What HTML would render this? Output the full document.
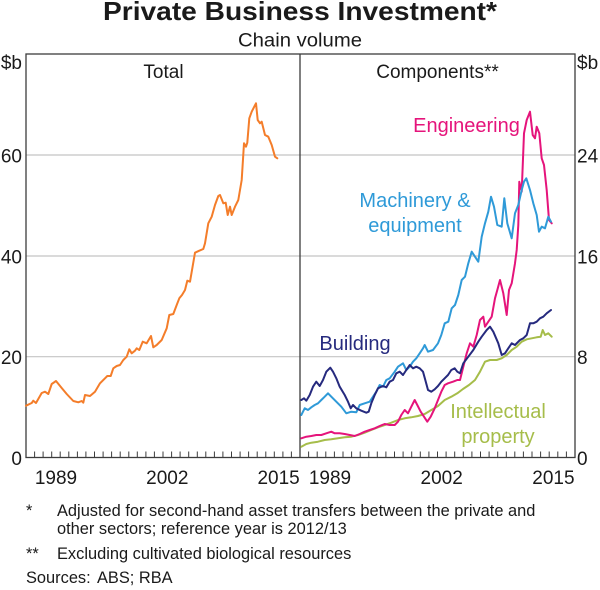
<!DOCTYPE html>
<html><head><meta charset="utf-8"><style>
html,body{margin:0;padding:0;background:#fff;}
svg{display:block;font-family:"Liberation Sans",Arial,sans-serif;}
</style></head><body>
<svg width="600" height="590" viewBox="0 0 600 590" xmlns="http://www.w3.org/2000/svg">
<rect width="600" height="590" fill="#fff"/>
<!-- titles -->
<text x="300" y="20" text-anchor="middle" font-size="26" font-weight="bold" fill="#1a1a1a" textLength="394" lengthAdjust="spacingAndGlyphs">Private Business Investment*</text>
<text x="300" y="46.5" text-anchor="middle" font-size="19" fill="#1a1a1a" textLength="124" lengthAdjust="spacingAndGlyphs">Chain volume</text>
<!-- gridlines -->
<g stroke="#c4c4c4" stroke-width="1.2">
<line x1="26" y1="155" x2="575" y2="155"/>
<line x1="26" y1="256" x2="575" y2="256"/>
<line x1="26" y1="356.7" x2="575" y2="356.7"/>
</g>
<!-- frame -->
<g stroke="#3c3c3c" stroke-width="1.3" fill="none">
<rect x="26" y="54" width="549" height="403.5"/>
<line x1="300" y1="54" x2="300" y2="457.5"/>
</g>
<!-- ticks -->
<g stroke="#3c3c3c" stroke-width="1">
<path d="M34.6 457V451.5M43.1 457V451.5M51.7 457V451.5M60.2 457V451.5M68.8 457V451.5M77.4 457V451.5M85.9 457V451.5M94.5 457V451.5M103.1 457V451.5M111.6 457V451.5M120.2 457V451.5M128.8 457V451.5M137.3 457V451.5M145.9 457V451.5M154.4 457V451.5M163 457V451.5M171.6 457V451.5M180.1 457V451.5M188.7 457V451.5M197.3 457V451.5M205.8 457V451.5M214.4 457V451.5M222.9 457V451.5M231.5 457V451.5M240.1 457V451.5M248.6 457V451.5M257.2 457V451.5M265.8 457V451.5M274.3 457V451.5M282.9 457V451.5M291.4 457V451.5"/>
<path d="M308.6 457V451.5M317.2 457V451.5M325.8 457V451.5M334.4 457V451.5M343 457V451.5M351.6 457V451.5M360.2 457V451.5M368.8 457V451.5M377.3 457V451.5M385.9 457V451.5M394.5 457V451.5M403.1 457V451.5M411.7 457V451.5M420.3 457V451.5M428.9 457V451.5M437.5 457V451.5M446.1 457V451.5M454.7 457V451.5M463.3 457V451.5M471.9 457V451.5M480.5 457V451.5M489.1 457V451.5M497.7 457V451.5M506.3 457V451.5M514.8 457V451.5M523.4 457V451.5M532 457V451.5M540.6 457V451.5M549.2 457V451.5M557.8 457V451.5M566.4 457V451.5"/>
</g>
<!-- axis labels -->
<g font-size="19" fill="#1a1a1a">
<text x="22" y="69" text-anchor="end">$b</text>
<text x="22" y="162.5" text-anchor="end">60</text>
<text x="22" y="263.5" text-anchor="end">40</text>
<text x="22" y="364" text-anchor="end">20</text>
<text x="22" y="465" text-anchor="end">0</text>
<text x="577" y="69">$b</text>
<text x="577" y="162.5">24</text>
<text x="577" y="263.5">16</text>
<text x="577" y="364">8</text>
<text x="577" y="465">0</text>
<text x="56" y="484" text-anchor="middle">1989</text>
<text x="167.3" y="484" text-anchor="middle">2002</text>
<text x="278.6" y="484" text-anchor="middle">2015</text>
<text x="330" y="484" text-anchor="middle">1989</text>
<text x="441.7" y="484" text-anchor="middle">2002</text>
<text x="553.4" y="484" text-anchor="middle">2015</text>
<text x="163.5" y="78" text-anchor="middle">Total</text>
<text x="437.5" y="78" text-anchor="middle">Components**</text>
</g>
<!-- series -->
<g fill="none" stroke-width="2" stroke-linejoin="round" stroke-linecap="round">
<polyline stroke="#f47d2a" points="26,405.7 31.7,403 33.3,400.7 36,403 41.7,393 45,391.7 48.3,394 51.7,384 56,381 61.7,388 66.7,394 73.3,401 78.3,402.3 81.7,401 83.3,402.7 85,395 90,396 95,391.7 100,383.3 105,378.3 107.3,376 110.7,376 113.3,368.3 116.7,366 120,365 123.3,360 126.7,356.7 129.3,349.3 131.7,353.3 135,350.7 136.7,348.3 139.3,350 142.7,341.7 146.7,343.3 151,336 153.3,347.3 156.7,345 161.7,340 166.7,328.3 169.3,315 173.3,314 176.7,305 179.3,298.3 182,295 185,290 187.3,280.7 190,281.7 195,252.7 199.3,250.7 203.3,249 205,243.3 208.3,223.3 211.7,216.7 215,205 218.3,196 220,195 223.3,203.3 225.7,202.7 227.7,215 230,206.7 231.7,215 235,206.7 238.3,200 241.7,180 244,143.3 246,146.7 247.3,142.7 249.3,118.3 251.7,111.7 256,103.3 257.7,120 260,123.3 261.7,121.7 265,135 268.3,136.7 271.7,145 275,156.7 277.3,158.3"/>
<polyline stroke="#a6bd4a" points="301.3,446.7 306.3,444 311.3,442.7 318,441.7 324.7,440 331.3,439.3 338,438.3 344.7,437.3 351.3,436.7 358,435 364.7,432.7 371.3,430 378,427.3 384.7,425 391.3,422.7 398,420 404.7,418.3 411.3,417.3 418,416 424.7,414 431.3,410 438,406 444.7,400 451.3,396.7 457.3,393.3 463,389 469,385 475,380 480,371.7 485,361.7 490,360 496.7,360 501.7,358.3 506.7,355 511.7,350 516.7,346.7 521.7,341.7 526.7,339.3 531.7,338.3 536.7,337.3 540.7,336.7 542.7,330 545,335 548.3,333.3 551.7,336.7"/>
<polyline stroke="#e5147b" points="301.3,438.3 306.3,436.7 311.3,436 316.3,435 321.3,435 326.3,433.3 331.3,431.7 334.7,433.3 339.7,433.3 344.7,434 349.7,435 354.7,436 359.7,434 364.7,431.7 369.7,430 374.7,428.3 379.7,426 384.7,424 389.7,425 394.7,425 398,421.7 401.3,415 404.7,410 408,413.3 411.3,406.7 414.7,400 417.3,405 420.7,411.7 424,416.7 427.3,421.7 430.7,416.7 434.7,408.3 438,400 441.3,391.7 444.7,385 448,383.3 453,381.7 457.3,380 460,380 463.3,366.7 466.7,353.3 470,343.3 473.3,346.7 476.7,335 480,320 483.3,316.7 485,326.7 488.3,321.7 491.7,316.7 495,298.3 497.3,290 500,280 503.3,293.3 506.7,315 509,290 511.7,283.3 515,263.3 516.7,250 518.3,225 519.3,181.7 521.7,191.7 524,133.3 526.7,120 530,111.7 532.7,135 535,138.3 536.7,126.7 539.3,133.3 541.7,158.3 544,165 546.7,190 549,220 551.7,223.3"/>
<polyline stroke="#2f9ad8" points="301.3,415 304.7,408.3 308,410 311.3,407.3 314.7,405 318,403.3 321.3,400 324.7,396.7 328,393.3 331.3,396.7 336.3,401.7 341.3,406.7 346.3,413.3 351.3,411.7 356.3,412.3 359.7,405 364.7,403.3 369.7,401.7 373,396.7 376.3,391.7 379.7,385 383,386.7 386.3,380 389.7,378.3 394.7,371.7 398,366.7 403,363.3 406.3,370 409.7,366.7 413,361.7 416.3,358.3 419.7,353.3 423,348.3 424.7,345 428,351.7 433,350 438,343.3 441.3,335 444.7,323.3 448.3,321.7 451.7,308.3 455,305 458.3,295 461.7,280 465,276.7 468.3,263.3 471.7,251.7 475,256.7 478.3,261.7 481.7,236.7 485,223.3 488.3,211.7 491,196.7 494,206.7 497.3,225 501.7,226.7 504.3,198.3 507.3,223.3 511.7,238.3 515,213.3 518.3,205 521.7,190 524,181.7 526.3,178.3 530,190 533.3,203.3 536.7,215 539,231.7 541.7,226.7 545,228.3 548.3,216.7 551,221.7"/>
<polyline stroke="#262a7e" points="301.3,400 304,398.3 306.3,400.7 309.7,395 313,386.7 316.3,381.7 319.7,386 323,380 326.3,371.7 330.3,367.7 333,371.7 336.3,378.3 339.7,386.7 344.7,395 348,401.7 350.7,408.3 353,405 356.3,408.3 361.3,410.7 366.3,412.7 368.7,411.7 371.3,403.3 374.7,395 378,388.3 383,386 386.3,387.3 389.7,381.7 393,380 396.3,373.3 399.7,371.7 403,375 406.3,370 409.7,365 413,368.3 416.3,366.7 419.7,368.3 423,371.7 425.3,380 428,390 431.3,391.7 434.7,389.3 438,386 441.3,381.7 444.7,378.3 448,375 451.3,370 454.7,368.3 457.3,371.7 460,373.3 463.3,363.3 468.3,356.7 473.3,350 478.3,341.7 481.7,336.7 486.7,330 490,326.7 493.3,331.7 498.3,343.3 501.7,355 505,353.3 508.3,348.3 511.7,343.3 515,345 520,340 523.3,338.3 526.7,335 530,323.3 533.3,323.3 536.7,321.7 540,318.3 543.3,316.7 546.7,313.3 551,310"/>
</g>
<!-- series labels -->
<g font-size="20">
<text x="466.5" y="132" text-anchor="middle" fill="#e5147b">Engineering</text>
<text x="415" y="207" text-anchor="middle" fill="#2f9ad8">Machinery &amp;</text>
<text x="415" y="232" text-anchor="middle" fill="#2f9ad8">equipment</text>
<text x="355" y="350" text-anchor="middle" fill="#262a7e">Building</text>
<text x="498" y="418" text-anchor="middle" fill="#a6bd4a">Intellectual</text>
<text x="498" y="443" text-anchor="middle" fill="#a6bd4a">property</text>
</g>
<!-- footnotes -->
<g font-size="16.4" fill="#1a1a1a">
<text x="26" y="516">*</text>
<text x="57" y="516">Adjusted for second-hand asset transfers between the private and</text>
<text x="57" y="534">other sectors; reference year is 2012/13</text>
<text x="26" y="559">**</text>
<text x="57" y="559">Excluding cultivated biological resources</text>
<text x="26" y="583">Sources:</text>
<text x="97" y="583">ABS; RBA</text>
</g>
</svg>
</body></html>
